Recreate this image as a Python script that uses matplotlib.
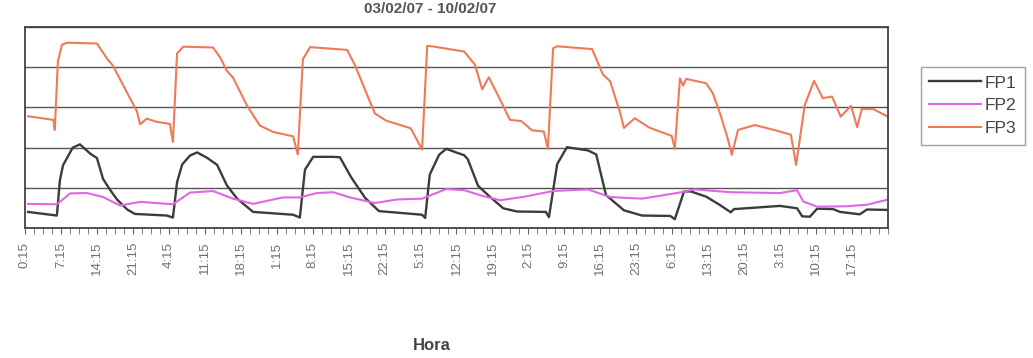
import numpy as np
import matplotlib
matplotlib.use("Agg")
import matplotlib.pyplot as plt
from matplotlib.ticker import MultipleLocator

plt.rcParams['font.family'] = ['Liberation Sans', 'DejaVu Sans']

# hours since the first reading (0:15)
fp1_h = [0.6, 6.2, 6.8, 7.4, 9.3, 10.7, 12.7, 14.0, 15.2, 16.5, 17.9, 19.9, 21.4, 27.6, 28.8,
         29.6, 30.6, 32.1, 33.5, 35.4, 37.4, 39.3, 41.3, 44.4, 52.2, 53.5, 54.5, 56.1, 60.0,
         61.3, 63.5, 66.2, 68.9, 77.3, 77.9, 78.8, 80.6, 82.0, 83.7, 85.5, 86.2, 88.2, 90.3,
         93.1, 95.8, 101.4, 102.0, 103.6, 105.5, 109.6, 111.2, 113.1, 116.6, 120.1, 125.6,
         126.5, 128.3, 129.6, 132.6, 135.3, 137.4, 138.0, 147.0, 150.3, 151.3, 152.8, 154.2,
         157.3, 158.7, 162.5, 163.9, 167.8]
fp1_v = [4.0, 3.1, 11.9, 15.6, 20.0, 20.8, 18.5, 17.4, 12.2, 9.6, 7.1, 4.6, 3.5, 3.1, 2.6,
         11.4, 15.8, 18.0, 18.8, 17.5, 15.7, 10.6, 7.3, 4.0, 3.3, 2.6, 14.5, 17.7, 17.7,
         17.6, 12.6, 7.5, 4.2, 3.3, 2.5, 13.3, 18.2, 19.7, 18.9, 18.1, 17.1, 10.5, 8.0,
         4.9, 4.1, 4.0, 2.7, 15.9, 20.1, 19.3, 18.3, 8.2, 4.4, 3.1, 3.0,
         2.2, 9.1, 9.1, 7.8, 5.7, 3.9, 4.7, 5.5, 4.9, 2.9, 2.8, 4.8,
         4.7, 4.0, 3.4, 4.6, 4.5]

fp2_h = [0.6, 6.2, 8.8, 12.1, 15.2, 18.5, 22.4, 28.8, 32.1, 36.6, 40.5, 44.4, 50.2, 53.5,
         56.8, 60.0, 63.3, 68.1, 72.4, 77.3, 82.0, 85.5, 89.0, 92.5, 97.3, 102.8, 109.6,
         113.9, 120.1, 126.9, 130.4, 137.4, 147.0, 150.3, 151.5, 154.2, 160.0, 163.9, 167.8]
fp2_v = [6.0, 5.9, 8.6, 8.7, 7.7, 5.6, 6.5, 5.9, 8.8, 9.2, 7.3, 6.0, 7.6, 7.6,
         8.7, 8.9, 7.6, 6.2, 7.1, 7.3, 9.7, 9.4, 8.0, 6.9, 7.8, 9.2, 9.6,
         7.7, 7.3, 8.7, 9.6, 8.9, 8.7, 9.4, 6.6, 5.3, 5.4, 5.8, 7.0]

fp3_h = [0.6, 5.5, 5.8, 6.4, 7.2, 8.2, 14.0, 16.0, 17.1, 19.9, 21.8, 22.4, 23.7, 25.7, 28.2,
         28.8, 29.6, 30.8, 36.6, 38.0, 39.3, 40.5, 43.2, 45.7, 48.3, 52.2, 53.1, 54.1, 55.5,
         62.7, 64.2, 68.1, 70.3, 75.1, 77.3, 78.3, 79.2, 85.5, 87.6, 89.0, 90.3, 92.5, 94.4,
         96.6, 98.7, 101.0, 101.8, 102.8, 103.6, 110.4, 112.5, 113.9, 115.8, 116.6, 118.7,
         121.5, 124.2, 125.9, 126.5, 127.5, 128.1, 128.7, 132.6, 133.9, 135.3, 136.7, 137.6,
         138.8, 142.1, 146.4, 149.1, 150.1, 151.8, 153.6, 155.3, 157.1, 158.8, 160.8, 162.0,
         162.9, 165.1, 167.8]
fp3_v = [27.8, 26.9, 24.4, 41.4, 45.6, 46.1, 45.9, 42.1, 40.4, 33.6, 29.0, 25.8, 27.2, 26.4, 25.9,
         21.4, 43.4, 45.1, 44.9, 42.4, 39.1, 37.4, 30.5, 25.5, 23.9, 22.8, 18.3, 42.0, 45.0,
         44.3, 40.6, 28.5, 26.7, 24.8, 19.5, 45.3, 45.2, 43.9, 40.6, 34.5, 37.5, 31.9, 26.9,
         26.6, 24.3, 24.0, 19.7, 44.7, 45.2, 44.5, 38.2, 36.5, 28.9, 24.9, 27.3,
         25.0, 23.7, 22.9, 19.7, 37.2, 35.4, 37.1, 36.0, 33.5, 28.5, 22.7, 18.2,
         24.4, 25.6, 24.2, 23.2, 15.7, 30.6, 36.6, 32.3, 32.7, 27.7, 30.4, 25.1,
         29.6, 29.6, 27.8]

tick_hours = [0, 7, 14, 21, 28, 35, 42, 49, 56, 63, 70, 77, 84, 91, 98, 105, 112, 119,
              126, 133, 140, 147, 154, 161]
tick_labels = ['0:15', '7:15', '14:15', '21:15', '4:15', '11:15', '18:15', '1:15', '8:15',
               '15:15', '22:15', '5:15', '12:15', '19:15', '2:15', '9:15', '16:15', '23:15',
               '6:15', '13:15', '20:15', '3:15', '10:15', '17:15']

fig = plt.figure(figsize=(10.33, 3.58), dpi=100)
ax = fig.add_axes([25 / 1033, 1 - 228 / 358, (888 - 25) / 1033, 201 / 358])

ax.plot(fp1_h, fp1_v, color='#3c3c3c', lw=1.7, label='FP1')
ax.plot(fp2_h, fp2_v, color='#e066e6', lw=1.5, label='FP2')
ax.plot(fp3_h, fp3_v, color='#f07a55', lw=1.5, label='FP3')

ax.set_xlim(0, 168)
ax.set_ylim(0, 50)
ax.set_yticks(np.arange(0, 51, 10))
ax.set_yticklabels([])
ax.tick_params(axis='y', length=0)
ax.grid(axis='y', color='#555555', lw=1)
ax.set_axisbelow(True)

ax.set_xticks(tick_hours)
ax.set_xticklabels(tick_labels, rotation=90, fontsize=9.5, color='#707070')
ax.xaxis.set_minor_locator(MultipleLocator(1.75))
ax.tick_params(axis='x', which='both', length=4, color='#666666', pad=6)

for s in ax.spines.values():
    s.set_color('#444444')
    s.set_linewidth(1.3)

fig.text(432 / 1033, 1 - 345 / 358, 'Hora', ha='center', va='center', fontsize=12,
         fontweight='bold', color='#444444')
fig.text(430 / 1033, 1 - 2 / 358, '03/02/07 - 10/02/07', ha='center', va='top', fontsize=11,
         fontweight='bold', color='#555555')

leg = fig.legend(loc='upper left', bbox_to_anchor=(912 / 1033, 1 - 58 / 358), fontsize=12.5,
                 frameon=True, fancybox=False, handlelength=3, handletextpad=0.2,
                 labelspacing=0.45, borderpad=0.5)
leg.get_frame().set_edgecolor('#888888')
leg.get_frame().set_linewidth(1)
for t in leg.get_texts():
    t.set_color('#444444')

fig.savefig('out.png', dpi=100)
